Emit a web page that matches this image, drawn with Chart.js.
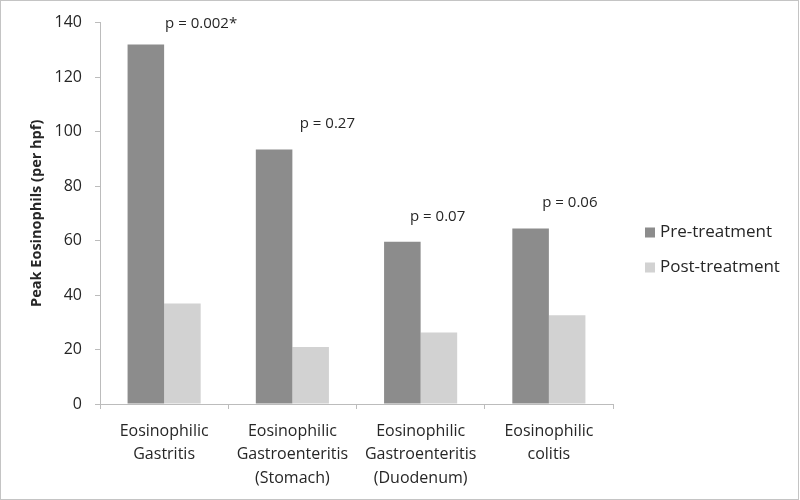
<!DOCTYPE html>
<html>
<head>
<meta charset="utf-8">
<script src="https://cdn.jsdelivr.net/npm/chart.js@4/dist/chart.umd.min.js"></script>
<style>
  html, body { margin: 0; padding: 0; background: #fff; }
  #wrap { width: 800px; height: 500px; }
</style>
</head>
<body>
<div id="wrap"><canvas id="eosChart" width="800" height="500"></canvas></div>
<script>
// Datos
const categorias = [
  ["Eosinophilic", "Gastritis"],
  ["Eosinophilic", "Gastroenteritis", "(Stomach)"],
  ["Eosinophilic", "Gastroenteritis", "(Duodenum)"],
  ["Eosinophilic", "colitis"],
];
const preTratamiento = [132, 93.4, 59.6, 64.4];
const postTratamiento = [36.9, 20.9, 26.2, 32.6];
const valoresP = ["p = 0.002*", "p = 0.27", "p = 0.07", "p = 0.06"];
const ticksY = [0, 20, 40, 60, 80, 100, 120, 140];

const FONT = "'Open Sans', 'Liberation Sans', sans-serif";
const TEXT = "#262626";
const AXIS = "#bcbcbc";

// etiquetas de p encima de cada grupo
const etiquetasP = {
  id: "etiquetasP",
  afterDatasetsDraw(chart, args, opts) {
    const { ctx, scales: { x, y } } = chart;
    ctx.save();
    ctx.font = "15px " + FONT;
    ctx.fillStyle = TEXT;
    ctx.textAlign = "center";
    ctx.textBaseline = "middle";
    valoresP.forEach((txt, i) => {
      const px = x.getPixelForValue(i) + opts.dx[i];
      const py = y.getPixelForValue(preTratamiento[i]) - opts.dy[i];
      ctx.fillText(txt, px, py);
    });
    ctx.restore();
  },
};

// leyenda a la derecha y marco
const leyenda = {
  id: "leyenda",
  afterDraw(chart) {
    const { ctx, chartArea } = chart;
    const x0 = chartArea.right + 32;
    const y0 = chart.height / 2 - 17.5;
    ctx.save();
    ctx.font = "17px " + FONT;
    ctx.textBaseline = "middle";
    chart.data.datasets.forEach((ds, i) => {
      const cy = y0 + i * 35;
      ctx.fillStyle = ds.backgroundColor;
      ctx.fillRect(x0, cy - 5, 10, 10);
      ctx.fillStyle = TEXT;
      ctx.fillText(ds.label, x0 + 15, cy);
    });
    ctx.strokeStyle = "#c4c4c4";
    ctx.lineWidth = 1;
    ctx.strokeRect(0.5, 0.5, chart.width - 2, chart.height - 1);
    ctx.restore();
  },
};

const ctx = document.getElementById("eosChart").getContext("2d");
new Chart(ctx, {
  type: "bar",
  data: {
    labels: categorias,
    datasets: [
      {
        label: "Pre-treatment",
        data: preTratamiento,
        backgroundColor: "#8c8c8c",
      },
      {
        label: "Post-treatment",
        data: postTratamiento,
        backgroundColor: "#d2d2d2",
      },
    ],
  },
  options: {
    responsive: false,
    animation: false,
    categoryPercentage: 0.57,
    barPercentage: 1,
    layout: { padding: { top: 22, right: 187, left: 0, bottom: 0 } },
    plugins: {
      legend: { display: false },
      tooltip: { enabled: false },
      etiquetasP: { dx: [37, 35, 17, 21], dy: [21, 26, 25, 26] },
    },
    scales: {
      x: {
        offset: true,
        grid: { offset: true, drawOnChartArea: false, tickLength: 5, color: AXIS },
        border: { color: AXIS },
        ticks: {
          color: TEXT,
          padding: 11,
          maxRotation: 0,
          autoSkip: false,
          font: { family: FONT, size: 16, lineHeight: 1.45 },
        },
        afterFit(scale) { scale.height = 96; },
      },
      y: {
        min: 0,
        max: 140,
        grid: { drawOnChartArea: false, tickLength: 5, color: AXIS },
        border: { color: AXIS },
        afterBuildTicks(scale) { scale.ticks = ticksY.map((v) => ({ value: v })); },
        ticks: {
          color: TEXT,
          padding: 13,
          font: { family: FONT, size: 16 },
        },
        title: {
          display: true,
          text: "Peak Eosinophils (per hpf)",
          color: TEXT,
          font: { family: FONT, size: 14.5, weight: "bold" },
          padding: { top: 28, bottom: 0 },
        },
        afterFit(scale) { scale.width = 100; },
      },
    },
  },
  plugins: [etiquetasP, leyenda],
});
</script>
</body>
</html>
